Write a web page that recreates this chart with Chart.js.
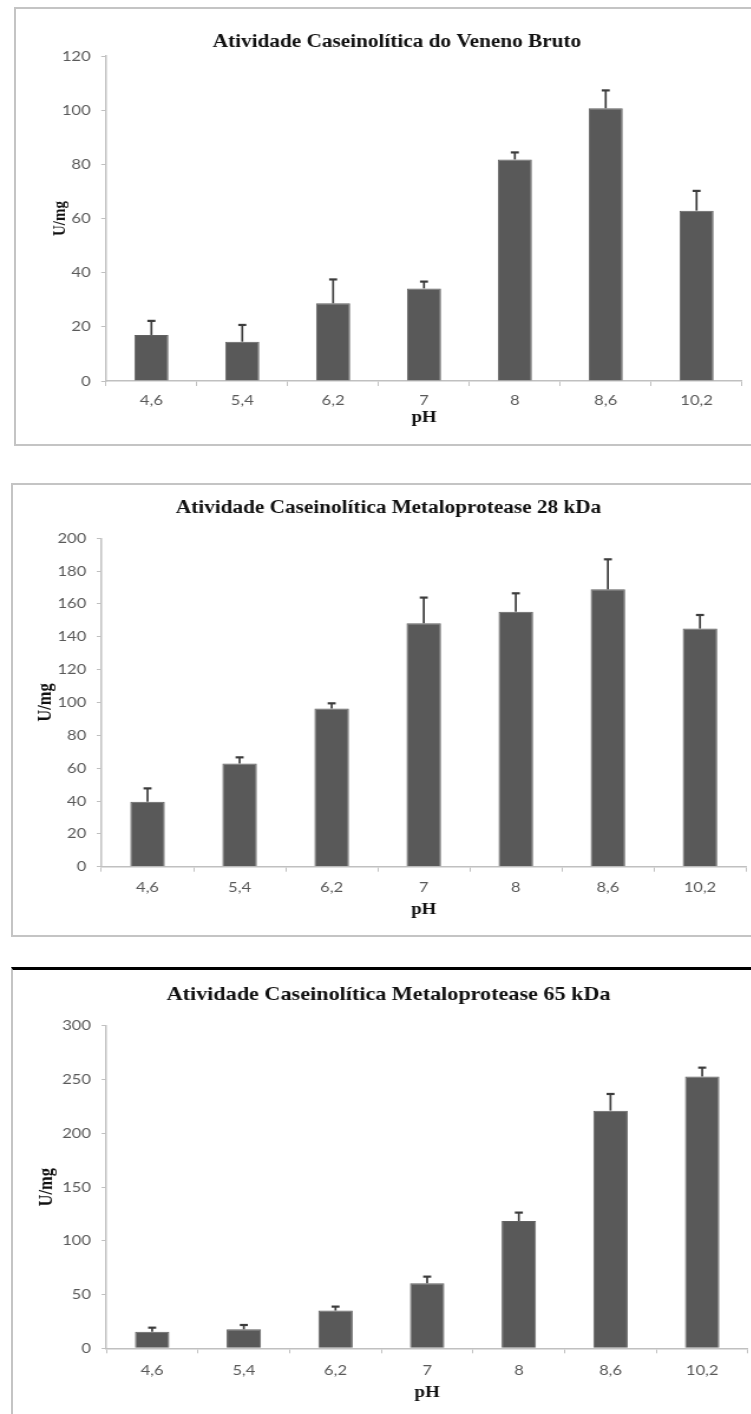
<!DOCTYPE html>
<html>
<head>
<meta charset="utf-8">
<script src="https://cdn.jsdelivr.net/npm/chart.js@4.4.1/dist/chart.umd.min.js"></script>
<style>
  html, body { margin: 0; padding: 0; background: #fff; overflow: hidden; }
  body { width: 751px; height: 1414px; position: relative; }
  .frame { position: absolute; box-sizing: border-box; }
  .wrap { position: absolute; left: 0; transform-origin: 0 0; transform: scaleX(1.18); }
  canvas { display: block; }
</style>
</head>
<body>
<div class="frame" style="left:14px; top:7px; width:800px; height:439px; border:2px solid #c4c4c4; border-right:none;"></div>
<div class="frame" style="left:11px; top:483px; width:800px; height:454px; border:2px solid #c4c4c4; border-right:none;"></div>
<div class="frame" style="left:11px; top:967px; width:800px; height:500px; border-left:2px solid #c4c4c4; border-top:3px solid #000;"></div>

<div class="wrap" style="top:0px;"><canvas id="c1" width="700" height="450" style="width:700px;height:450px"></canvas></div>
<div class="wrap" style="top:470px;"><canvas id="c2" width="700" height="470" style="width:700px;height:470px"></canvas></div>
<div class="wrap" style="top:940px;"><canvas id="c3" width="700" height="474" style="width:700px;height:474px"></canvas></div>

<script>
// pH values tested (category tick labels)
const phLabels = ['4,6', '5,4', '6,2', '7', '8', '8,6', '10,2'];

// Crude venom: caseinolytic activity (U/mg) and upper error
const brutoValues = [17.0, 14.5, 28.7, 34.2, 81.8, 100.7, 62.9];
const brutoErrors = [5.2, 6.2, 8.8, 2.5, 2.6, 6.6, 7.3];

// 28 kDa metalloprotease
const mp28Values = [39.6, 62.9, 96.4, 148.2, 155.3, 168.9, 145.0];
const mp28Errors = [8.1, 3.7, 3.1, 15.7, 11.2, 18.3, 8.3];

// 65 kDa metalloprotease
const mp65Values = [15.5, 17.7, 35.1, 60.5, 118.5, 221.2, 252.9];
const mp65Errors = [3.7, 4.0, 3.7, 6.2, 7.8, 15.5, 8.3];

// Chart titles and y-axis ranges
const chartTitles = [
  'Atividade Caseinolítica do Veneno Bruto',
  'Atividade Caseinolítica Metaloprotease 28 kDa',
  'Atividade Caseinolítica Metaloprotease 65 kDa'
];
const yMax = [120, 200, 300];
const yStep = [20, 20, 50];

const SERIF = '"Liberation Serif", "Times New Roman", serif';
const SANS = 'Lato, "Open Sans", sans-serif';
const BAR = '#595959';
const TICK_TEXT = '#595959';
const AXIS = '#c0c0c0';

// Draws the positive error bar (stem + cap) above each column
const errorBars = {
  id: 'errorBars',
  afterDatasetsDraw(chart) {
    const { ctx } = chart;
    const yScale = chart.scales.y;
    const ds = chart.data.datasets[0];
    const meta = chart.getDatasetMeta(0);
    ctx.save();
    ctx.strokeStyle = '#3c3c3c';
    ctx.lineCap = 'butt';
    meta.data.forEach((bar, i) => {
      const v = ds.data[i];
      const top = yScale.getPixelForValue(v + ds.errors[i]);
      const base = yScale.getPixelForValue(v);
      ctx.lineWidth = 1.7;
      ctx.beginPath();
      ctx.moveTo(bar.x, base);
      ctx.lineTo(bar.x, top);
      ctx.stroke();
      ctx.lineWidth = 2.2;
      ctx.beginPath();
      ctx.moveTo(bar.x - 3.4, top);
      ctx.lineTo(bar.x + 3.4, top);
      ctx.stroke();
    });
    ctx.restore();
  }
};

function buildChart(id, values, errors, idx, L) {
  return new Chart(document.getElementById(id), {
    type: 'bar',
    data: {
      labels: phLabels,
      datasets: [{
        data: values,
        errors: errors,
        backgroundColor: BAR,
        borderColor: '#616161',
        borderWidth: 1,
        barPercentage: 0.375,
        categoryPercentage: 1
      }]
    },
    options: {
      responsive: false,
      animation: false,
      devicePixelRatio: 1,
      layout: { padding: L.pad },
      plugins: {
        legend: { display: false },
        tooltip: { enabled: false },
        title: {
          display: true,
          text: chartTitles[idx],
          color: '#111',
          font: { family: SERIF, weight: 'bold', size: L.titleSize, lineHeight: 1.2 },
          padding: L.titlePad
        }
      },
      scales: {
        x: {
          afterFit(scale) { scale.height = L.xHeight; },
          grid: { offset: true, drawOnChartArea: false, drawTicks: true, tickLength: 5, color: AXIS, lineWidth: 1 },
          border: { display: true, color: AXIS, width: 1.5 },
          ticks: { color: TICK_TEXT, padding: L.xTickPad, font: { family: SANS, size: 14, lineHeight: 1.2 } },
          title: {
            display: true, text: 'pH', color: '#111',
            font: { family: SERIF, weight: 'bold', size: 16, lineHeight: 1.2 },
            padding: { top: 0, bottom: L.phPadBottom }
          }
        },
        y: {
          min: 0, max: yMax[idx],
          afterFit(scale) { scale.width = L.yWidth; },
          grid: { drawOnChartArea: false, drawTicks: true, tickLength: 4, color: AXIS, lineWidth: 1 },
          border: { display: true, color: AXIS, width: 1.5 },
          ticks: { stepSize: yStep[idx], color: TICK_TEXT, padding: 9, font: { family: SANS, size: 14, lineHeight: 1.2 } },
          title: {
            display: true, text: 'U/mg', color: '#111',
            font: { family: SERIF, weight: 'bold', size: L.yTitleSize, lineHeight: 1.2 },
            padding: { top: L.yTitlePadTop, bottom: 0 }
          }
        }
      }
    },
    plugins: [errorBars]
  });
}

buildChart('c1', brutoValues, brutoErrors, 0, {
  pad: { left: 44, right: 71.2, top: 0, bottom: 19 },
  yWidth: 45.8, titleSize: 18, titlePad: { top: 31.2, bottom: 3.2 },
  yTitleSize: 15, yTitlePadTop: -2.2,
  xHeight: 50, xTickPad: 5.6, phPadBottom: 3.4
});
buildChart('c2', mp28Values, mp28Errors, 1, {
  pad: { left: 26.2, right: 67.8, top: 0, bottom: 18.3 },
  yWidth: 59.8, titleSize: 18, titlePad: { top: 27.2, bottom: 19.5 },
  yTitleSize: 16.5, yTitlePadTop: 2.5,
  xHeight: 55, xTickPad: 6.9, phPadBottom: 2.1
});
buildChart('c3', mp65Values, mp65Errors, 2, {
  pad: { left: 24.7, right: 66.1, top: 0, bottom: 8.7 },
  yWidth: 65.4, titleSize: 18.8, titlePad: { top: 43.7, bottom: 19.7 },
  yTitleSize: 16.5, yTitlePadTop: 5.2,
  xHeight: 57, xTickPad: 8.3, phPadBottom: 2.7
});
</script>
</body>
</html>
